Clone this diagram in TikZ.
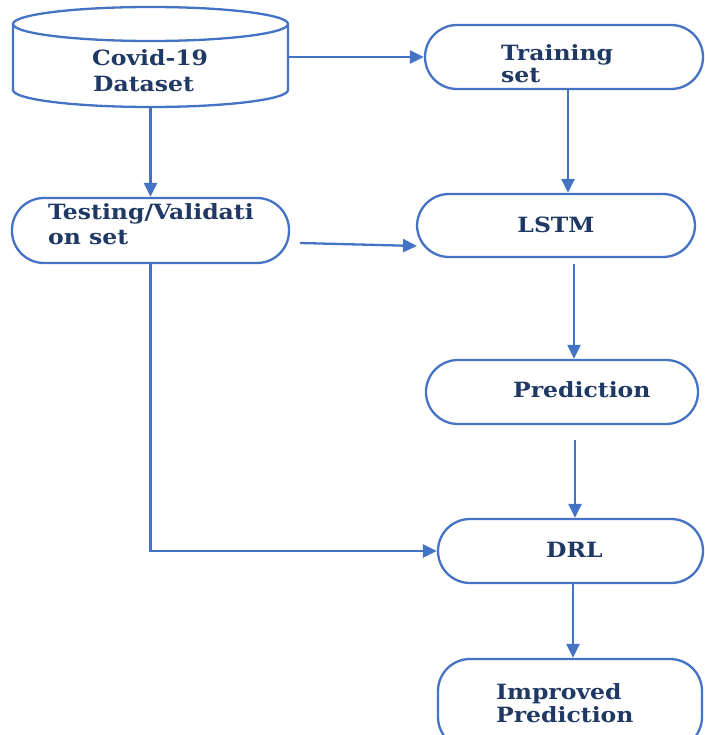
\documentclass[tikz,border=0pt]{standalone}
\usepackage{fontspec}
\setmainfont{DejaVu Serif}
\newfontfamily\boxfont[FakeStretch=1.12]{DejaVu Serif Bold}
\usetikzlibrary{arrows.meta}
\definecolor{linec}{HTML}{4472C4}
\definecolor{textc}{HTML}{1F3864}
\begin{document}
\begin{tikzpicture}[x=1pt,y=-1pt,
  line width=2.3pt,
  arr/.style={draw=linec,-{Triangle[length=14pt,width=13pt]}},
  stadium/.style={draw=linec,rounded corners=32pt,inner sep=0pt,fill=white},
  lbl/.style={anchor=base west,inner sep=0pt,text=textc,font=\boxfont\fontsize{21}{21}\selectfont}]
\useasboundingbox (0,0) rectangle (704,735);
\clip (0,0) rectangle (704,735);
% cylinder
\draw[linec] (13,24) -- (13,90) arc[start angle=180,end angle=360,x radius=137.5pt,y radius=17pt] -- (288,24);
\draw[linec] (150.5,24) ellipse[x radius=137.5pt,y radius=17pt];
\node[inner sep=0pt,minimum width=275pt,minimum height=100pt] (data) at (150.5,57) {};
% boxes
\node[stadium,minimum width=278pt,minimum height=64pt] (train) at (564,57) {};
\node[stadium,minimum width=277pt,minimum height=65pt] (test) at (150.5,230.5) {};
\node[stadium,minimum width=278pt,minimum height=63pt] (lstm) at (556,225.5) {};
\node[stadium,minimum width=272pt,minimum height=64pt] (pred) at (562,392) {};
\node[stadium,minimum width=265pt,minimum height=64pt] (drl) at (570.5,551) {};
\node[stadium,minimum width=264pt,minimum height=90pt] (impr) at (570,704) {};
% text
\node[lbl] (t1) at (91,66) {Covid-19};
\node[lbl] (t2) at (92,92) {Dataset};
\node[lbl] (t3) at (500,61) {Training};
\node[lbl] (t4) at (500,83) {set};
\node[lbl] (t5) at (47,219) {Testing/Validati};
\node[lbl] (t6) at (47,244) {on set};
\node[lbl,anchor=base] (t7) at (556,233) {LSTM};
\node[lbl] (t8) at (512,397) {Prediction};
\node[lbl] (t9) at (545,557) {DRL};
\node[lbl] (t10) at (495,699) {Improved};
\node[lbl] (t11) at (495,722) {Prediction};
% connectors
\coordinate (c1) at (288,57);
\draw[arr] (c1) -- (train.west);
\coordinate (c2) at (150.5,107);
\draw[arr] (c2) -- (test.north);
\coordinate (c3) at (568,89);
\draw[arr] (c3) -- (c3 |- lstm.north);
\coordinate (c4) at (300,243);
\coordinate (c4e) at (417,246);
\draw[arr] (c4) -- (c4e);
\coordinate (c5) at (574,264);
\draw[arr] (c5) -- (c5 |- pred.north);
\coordinate (c6) at (575,440);
\draw[arr] (c6) -- (c6 |- drl.north);
\draw[arr] (test.south) |- (drl.west);
\draw[arr] (drl.south -| 573,0) -- (impr.north -| 573,0);
\end{tikzpicture}
\end{document}
